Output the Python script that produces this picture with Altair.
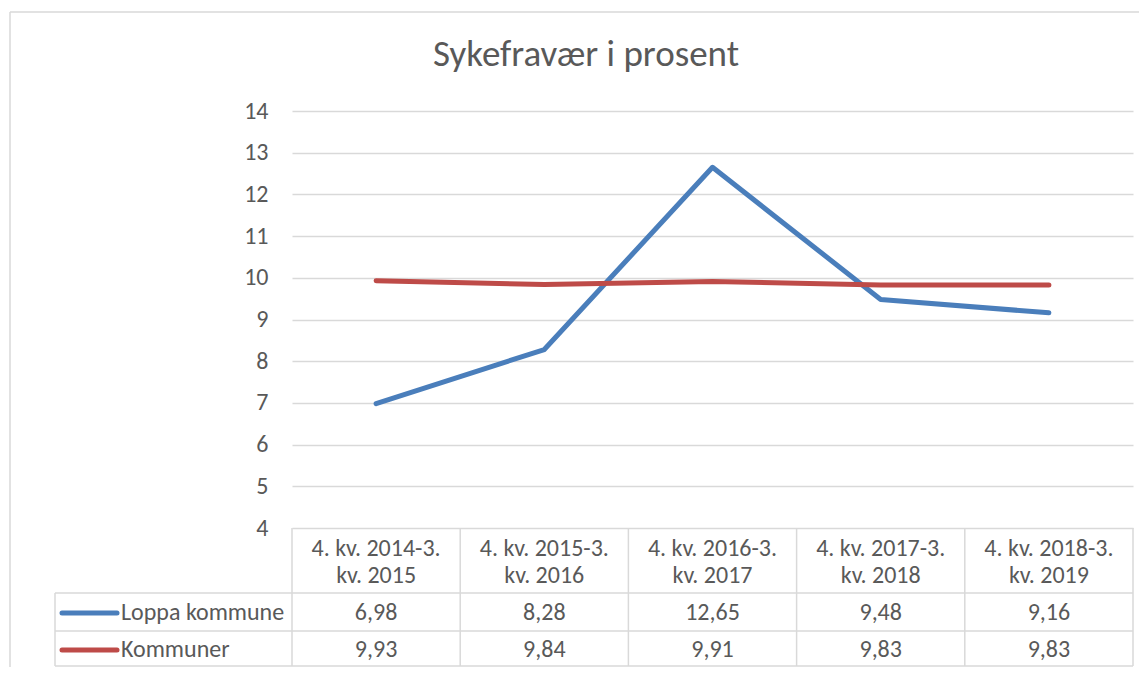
import altair as alt
import pandas as pd

# ---- data ----
categories = [
    "4. kv. 2014-3. kv. 2015",
    "4. kv. 2015-3. kv. 2016",
    "4. kv. 2016-3. kv. 2017",
    "4. kv. 2017-3. kv. 2018",
    "4. kv. 2018-3. kv. 2019",
]
series_names = ["Loppa kommune", "Kommuner"]
loppa_values = [6.98, 8.28, 12.65, 9.48, 9.16]
kommuner_values = [9.93, 9.84, 9.91, 9.83, 9.83]
y_ticks = [4, 5, 6, 7, 8, 9, 10, 11, 12, 13, 14]
title_text = "Sykefravær i prosent"

# ---- style ----
FONT = "Calibri, Carlito, Open Sans, sans-serif"
TXT = "#595959"
GRID = "#D9D9D9"
colors = ["#4A7EBB", "#BE4B48"]
FS = 24

W, H = 841, 417
rows_y = [502, 539]          # centre of table value rows (plot coords)
row_lines = [482, 520, 555]  # horizontal table lines
table_left = -237

rows = []
for name, vals in zip(series_names, [loppa_values, kommuner_values]):
    for c, v in zip(categories, vals):
        rows.append({"cat": c, "series": name, "value": v,
                     "label": f"{v:.2f}".replace(".", ",")})
df = pd.DataFrame(rows)

hdr = pd.DataFrame({
    "cat": categories,
    "line1": [c.split("3. ")[0] + "3." for c in categories],
    "line2": [c.split("3. ")[1] for c in categories],
})
one = pd.DataFrame({"k": [0]})
legend_df = pd.DataFrame({"series": series_names})


def X(**kw):
    return alt.X("cat:N", sort=categories, axis=None,
                 scale=alt.Scale(type="band", paddingInner=0, paddingOuter=0,
                                 domain=categories), **kw)


layers = []

# outer chart border (left and top)
layers.append(alt.Chart(one).mark_rule(color=GRID, strokeWidth=1.5).encode(
    x=alt.value(-282), y=alt.value(-99), y2=alt.value(556)))
layers.append(alt.Chart(one).mark_rule(color=GRID, strokeWidth=1.5).encode(
    x=alt.value(-282), x2=alt.value(847), y=alt.value(-99)))

# title
layers.append(alt.Chart(pd.DataFrame({"t": [title_text]})).mark_text(
    font=FONT, fontSize=37, color=TXT, align="center", baseline="alphabetic"
).encode(text="t:N", x=alt.value(294), y=alt.value(-45)))

# table horizontal lines
for yy in row_lines:
    layers.append(alt.Chart(one).mark_rule(color=GRID, strokeWidth=1.5).encode(
        x=alt.value(table_left), x2=alt.value(W), y=alt.value(yy)))
# table vertical lines
layers.append(alt.Chart(hdr).mark_rule(color=GRID, strokeWidth=1.5).encode(
    x=X(bandPosition=0), y=alt.value(H), y2=alt.value(row_lines[-1])))
layers.append(alt.Chart(one).mark_rule(color=GRID, strokeWidth=1.5).encode(
    x=alt.value(W), y=alt.value(H), y2=alt.value(row_lines[-1])))
layers.append(alt.Chart(one).mark_rule(color=GRID, strokeWidth=1.5).encode(
    x=alt.value(table_left), y=alt.value(row_lines[0]), y2=alt.value(row_lines[-1])))

# lines
layers.append(alt.Chart(df).mark_line(strokeWidth=5, strokeCap="round",
                                      strokeJoin="round").encode(
    x=X(bandPosition=0.5),
    y=alt.Y("value:Q", scale=alt.Scale(domain=[4, 14], nice=False, zero=False),
            axis=alt.Axis(values=y_ticks, grid=True, gridColor=GRID, gridWidth=1.5,
                          domain=False, ticks=False, labelPadding=24,
                          labelFontSize=FS, labelColor=TXT, labelFont=FONT,
                          title=None)),
    color=alt.Color("series:N", scale=alt.Scale(domain=series_names, range=colors),
                    legend=None),
    detail="series:N",
))

# header texts
layers.append(alt.Chart(hdr).mark_text(font=FONT, fontSize=FS, color=TXT,
                                       baseline="middle").encode(
    x=X(bandPosition=0.5), y=alt.value(438), text="line1:N"))
layers.append(alt.Chart(hdr).mark_text(font=FONT, fontSize=FS, color=TXT,
                                       baseline="middle").encode(
    x=X(bandPosition=0.5), y=alt.value(465), text="line2:N"))

# value rows + legend keys
for i, name in enumerate(series_names):
    layers.append(alt.Chart(df).transform_filter(alt.datum.series == name).mark_text(
        font=FONT, fontSize=FS, color=TXT, baseline="middle").encode(
        x=X(bandPosition=0.5), y=alt.value(rows_y[i]), text="label:N"))
    layers.append(alt.Chart(legend_df).transform_filter(alt.datum.series == name)
                  .mark_rule(strokeWidth=5, strokeCap="round", color=colors[i]).encode(
        x=alt.value(-230), x2=alt.value(-175), y=alt.value(rows_y[i])))
    layers.append(alt.Chart(legend_df).transform_filter(alt.datum.series == name)
                  .mark_text(font=FONT, fontSize=FS, color=TXT, align="left",
                             baseline="middle").encode(
        x=alt.value(-171), y=alt.value(rows_y[i]), text="series:N"))

chart = alt.layer(*layers).properties(
    width=W, height=H,
    autosize=alt.AutoSizeParams(type="none"),
    padding={"left": 284, "top": 103, "right": 6, "bottom": 139},
    background="white",
).configure_view(stroke=None)

chart.save("out.html", embed_options={"renderer": "svg", "actions": False})
